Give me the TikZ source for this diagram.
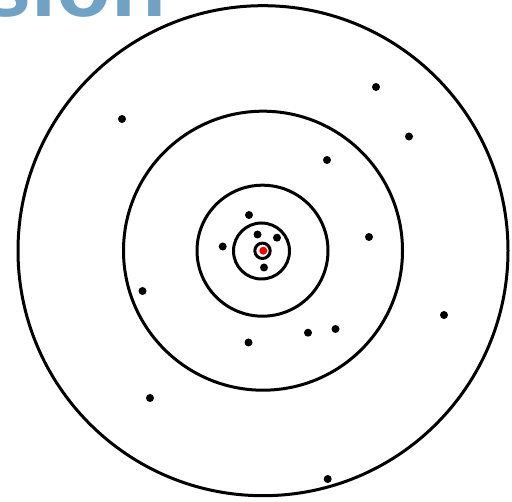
\documentclass[tikz,border=0pt]{standalone}
\usepackage{fontspec}
\setmainfont{Liberation Sans}
\definecolor{titleblue}{RGB}{112,162,198}
\begin{document}
\begin{tikzpicture}[x=1pt,y=-1pt,
  ring/.style={draw=black,line width=3pt},
  shot/.style={circle,fill=black,inner sep=0pt,minimum size=8pt},
  hit/.style={circle,fill=red,inner sep=0pt,minimum size=8pt}]
\useasboundingbox (0,0) rectangle (512,502);
\clip (0,0) rectangle (512,502);
\fill[white] (0,0) rectangle (512,502);
\node[anchor=base west,inner sep=0pt,text=titleblue,font=\bfseries\fontsize{90}{90}\selectfont] (title) at (-19,17) {sion};
% target rings
\draw[ring] (263,250.7) circle[radius=245];
\draw[ring] (263,250.7) circle[radius=139.5];
\draw[ring] (262.5,250.7) circle[radius=65.5];
\draw[ring] (261.5,251) circle[radius=28];
\draw[ring] (262.5,250.8) circle[radius=7.7];
% shots
\node[hit] (c) at (263.3,250.7) {};
\node[shot] (d1) at (122,119) {};
\node[shot] (d2) at (376,87) {};
\node[shot] (d3) at (409,136.5) {};
\node[shot] (d4) at (327,160) {};
\node[shot] (d5) at (369,237) {};
\node[shot] (d6) at (249,215) {};
\node[shot] (d7) at (257.5,234.5) {};
\node[shot] (d8) at (277,237.7) {};
\node[shot] (d9) at (222.7,246.5) {};
\node[shot] (d10) at (264,267.5) {};
\node[shot] (d11) at (308,332.7) {};
\node[shot] (d12) at (335.5,329) {};
\node[shot] (d13) at (444,315) {};
\node[shot] (d14) at (142.5,291) {};
\node[shot] (d15) at (248.5,342.5) {};
\node[shot] (d16) at (150,398) {};
\node[shot] (d17) at (327.7,479) {};
\end{tikzpicture}
\end{document}
